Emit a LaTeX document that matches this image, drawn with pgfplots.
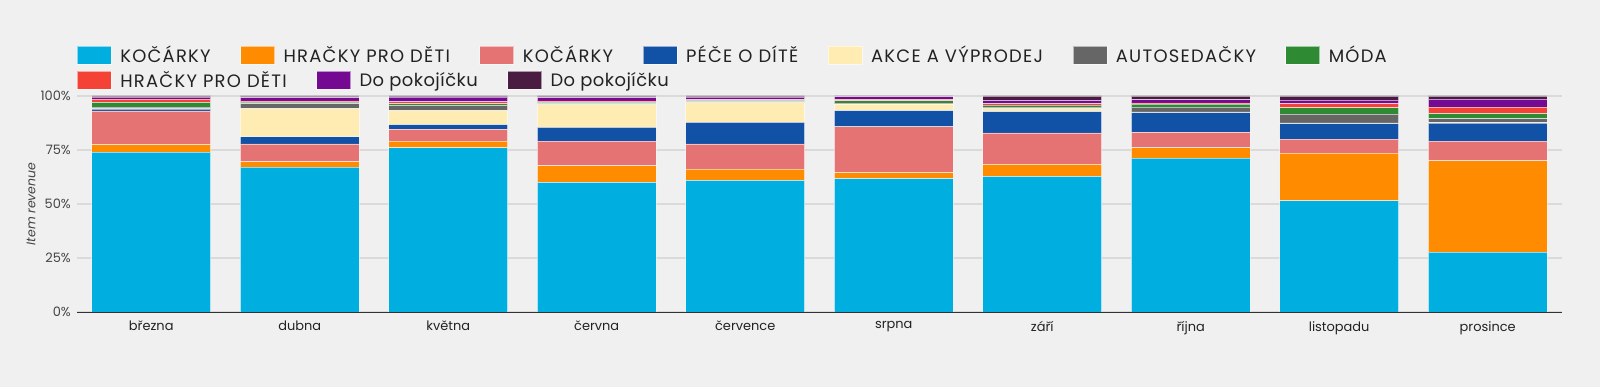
\documentclass[border=0pt]{standalone}
\usepackage{fontspec}
\setmainfont{Poppins}
\newfontfamily\ucleg[LetterSpace=7]{Poppins}
\newfontfamily\lcleg[LetterSpace=2.5]{Poppins}
\usepackage{pgfplots}
\usepackage{pgfplotstable}
\pgfplotsset{compat=1.18}
\definecolor{bg}{HTML}{F0F0F0}
\definecolor{gridc}{HTML}{DADADA}
\definecolor{c1}{RGB}{0,174,224}
\definecolor{c2}{RGB}{255,140,0}
\definecolor{c3}{RGB}{229,115,115}
\definecolor{c4}{RGB}{18,82,166}
\definecolor{c5}{RGB}{255,236,179}
\definecolor{c6}{RGB}{102,102,102}
\definecolor{c7}{RGB}{46,139,52}
\definecolor{c8}{RGB}{244,67,54}
\definecolor{c9}{RGB}{115,10,145}
\definecolor{c10}{RGB}{75,28,66}
\definecolor{txt}{HTML}{222222}
\definecolor{tick}{HTML}{444444}

\pgfplotstableread{
x s1 s2 s3 s4 s5 s6 s7 s8 s9 s10
0 74.0 3.5 15.6 0.9 0.3 0.6 2.2 1.5 0.9 0.5
1 67.1 2.4 8.3 3.3 13.1 2.3 0.7 0.5 1.5 0.8
2 76.0 3.1 5.5 2.2 6.4 2.5 0.8 0.8 2.2 0.5
3 60.0 7.7 11.4 6.4 10.5 0.4 0.7 0.6 1.6 0.7
4 60.9 5.3 11.6 10.0 9.1 0.5 0.6 0.3 1.2 0.5
5 61.8 2.7 21.2 7.5 3.0 0.6 1.0 0.6 1.2 0.4
6 62.8 5.5 14.6 9.9 1.4 0.6 1.0 0.7 1.5 2.0
7 71.2 4.8 7.2 9.1 0.3 2.3 1.3 0.6 1.4 1.8
8 51.5 22.0 6.5 7.2 0.3 4.2 2.8 2.0 1.6 1.9
9 27.7 42.3 9.1 8.3 0.3 1.8 2.3 3.1 3.6 1.5
}\datatable

\pgfplotsset{
  mylegend/.style={legend image code/.code={\draw[##1,/tikz/.cd,line width=0.8bp] (0bp,-9bp) rectangle (34bp,9bp);}},
  seg/.style={fill=#1, draw=white, draw opacity=0.55, line width=0.8bp},
  mylegstyle/.style={
    legend columns=-1,
    legend cell align=left,
    legend style={draw=none, fill=none, inner sep=0pt, outer sep=0pt,
      font=\fontsize{18}{20}\selectfont\color{txt},
      column sep=8.5bp,
      /tikz/every even column/.append style={column sep=29.5bp},
      nodes={inner sep=0pt}},
  },
}

\begin{document}
\begin{tikzpicture}[font=\fontsize{13}{15}\selectfont]
\fill[bg] (-77bp,-75bp) rectangle (1523bp,312bp);
\begin{axis}[
  at={(0,0)}, anchor=south west,
  scale only axis, width=1485bp, height=216bp,
  ybar stacked, bar width=0.8,
  mylegend,
  xmin=-0.5, xmax=9.5, ymin=0, ymax=100,
  enlargelimits=false,
  xtick={0,...,9},
  xticklabels={března,dubna,května,června,července,srpna,září,října,listopadu,prosince},
  ytick={0,25,50,75,100},
  yticklabels={0\%,25\%,50\%,75\%,100\%},
  axis x line*=bottom, axis y line*=left,
  y axis line style={draw=none},
  x axis line style={draw=black!80, line width=1bp},
  major tick length=0pt,
  ymajorgrids, grid style={draw=gridc, line width=1.2bp},
  xticklabel style={inner sep=0pt, anchor=north, yshift=-9bp, text=txt, font=\fontsize{13}{15}\selectfont},
  yticklabel style={inner sep=0pt, anchor=east, xshift=-6bp, text=tick, font=\fontsize{13}{15}\selectfont},
  ylabel={Item revenue},
  every axis y label/.style={at={(axis description cs:0,0.5)}, xshift=-46bp, rotate=90, anchor=center, font=\itshape\fontsize{12.5}{14}\selectfont, text=tick},
  mylegstyle,
  legend style={at={(axis description cs:0,1.19)}, anchor=west},
]
\addplot[seg=c1] table[x=x,y=s1]{\datatable};
\addlegendentry{\ucleg KOČÁRKY}
\addplot[seg=c2] table[x=x,y=s2]{\datatable};
\addlegendentry{\ucleg HRAČKY PRO DĚTI}
\addplot[seg=c3] table[x=x,y=s3]{\datatable};
\addlegendentry{\ucleg KOČÁRKY}
\addplot[seg=c4] table[x=x,y=s4]{\datatable};
\addlegendentry{\ucleg PÉČE O DÍTĚ}
\addplot[seg=c5] table[x=x,y=s5]{\datatable};
\addlegendentry{\ucleg AKCE A VÝPRODEJ}
\addplot[seg=c6] table[x=x,y=s6]{\datatable};
\addlegendentry{\ucleg AUTOSEDAČKY}
\addplot[seg=c7] table[x=x,y=s7]{\datatable};
\addlegendentry{\ucleg MÓDA}
\addplot[seg=c8, forget plot] table[x=x,y=s8]{\datatable};
\addplot[seg=c9, forget plot] table[x=x,y=s9]{\datatable};
\addplot[seg=c10, forget plot] table[x=x,y=s10]{\datatable};
\end{axis}
\begin{axis}[
  at={(0,0)}, anchor=south west,
  scale only axis, width=1485bp, height=216bp,
  hide axis, xmin=0, xmax=1, ymin=0, ymax=1,
  mylegend, mylegstyle,
  legend style={at={(axis description cs:0,1.074)}, anchor=west},
]
\addlegendimage{seg=c8}
\addlegendentry{\ucleg HRAČKY PRO DĚTI}
\addlegendimage{seg=c9}
\addlegendentry{\lcleg Do pokojíčku}
\addlegendimage{seg=c10}
\addlegendentry{\lcleg Do pokojíčku}
\end{axis}
\pgfresetboundingbox
\path[use as bounding box] (-77bp,-75bp) rectangle (1523bp,312bp);
\end{tikzpicture}
\end{document}
